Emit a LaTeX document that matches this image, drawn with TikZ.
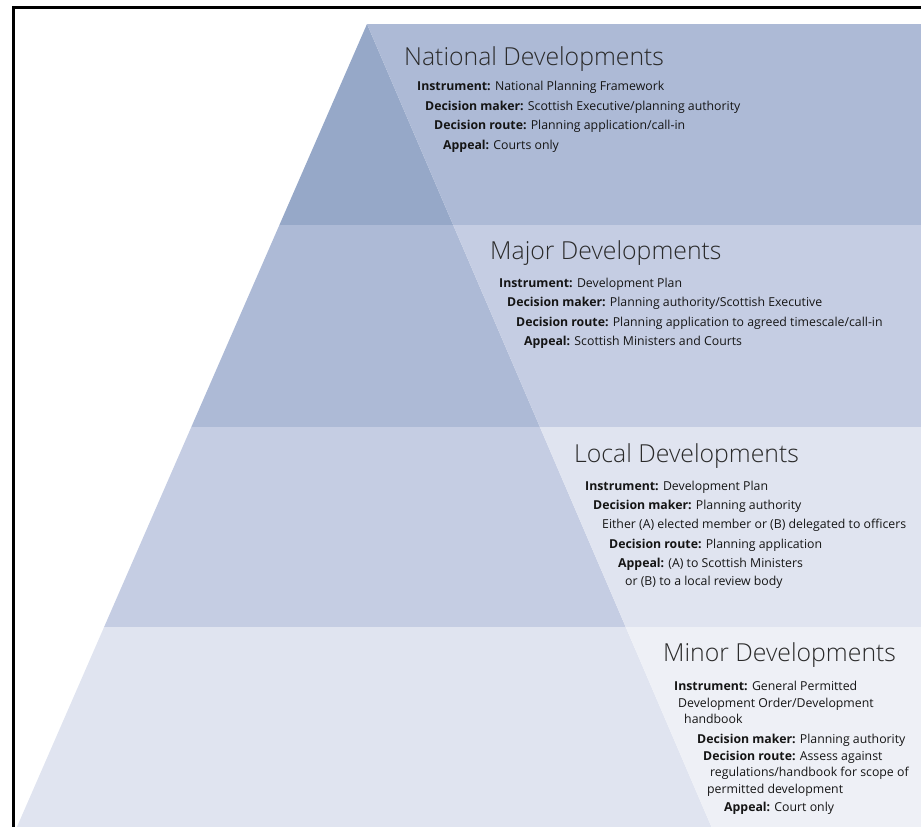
\documentclass[tikz,border=0pt]{standalone}
\usepackage{fontspec}
\setmainfont{Open Sans}
\newfontfamily\ttlfont{Open Sans Light}
\definecolor{bandA}{HTML}{96A8C8}
\definecolor{bandB}{HTML}{ADBAD6}
\definecolor{bandC}{HTML}{C5CDE3}
\definecolor{bandD}{HTML}{E0E4F0}
\definecolor{bandE}{HTML}{EEF0F6}
\definecolor{bodytext}{HTML}{151515}
\definecolor{titletext}{HTML}{2A2A2A}
\begin{document}
\begin{tikzpicture}[x=1pt,y=-1pt,
  body/.style={anchor=base west, inner sep=0pt, font=\fontsize{12.3}{14}\selectfont, text=bodytext},
  ttl/.style={anchor=base west, inner sep=0pt, font=\ttlfont\fontsize{24.8}{28}\selectfont, text=titletext}]
\useasboundingbox (0,0) rectangle (921,827);
% bands
\fill[bandA] (367,24) -- (453.2,225) -- (279.4,225) -- cycle;
\fill[bandB] (367,24) -- (921,24) -- (921,225) -- (453.2,225) -- cycle;
\fill[bandB] (279.4,225) -- (453.2,225) -- (539.9,427) -- (191.3,427) -- cycle;
\fill[bandC] (453.2,225) -- (921,225) -- (921,427) -- (539.9,427) -- cycle;
\fill[bandC] (191.3,427) -- (539.9,427) -- (625.7,627) -- (104.1,627) -- cycle;
\fill[bandD] (539.9,427) -- (921,427) -- (921,627) -- (625.7,627) -- cycle;
\fill[bandD] (104.1,627) -- (625.7,627) -- (711.5,827) -- (16.9,827) -- cycle;
\fill[bandE] (625.7,627) -- (921,627) -- (921,827) -- (711.5,827) -- cycle;
% frame
\draw[line width=3pt] (13,827) -- (13,7) -- (921,7);
% National
\node[ttl]  (natT) at (404,65) {National Developments};
\node[body] (natI) at (417,90.5) {\textbf{Instrument:} National Planning Framework};
\node[body] (natM) at (425,110) {\textbf{Decision maker:} Scottish Executive/planning authority};
\node[body] (natR) at (434,129.5) {\textbf{Decision route:} Planning application/call-in};
\node[body] (natA) at (443,149) {\textbf{Appeal:} Courts only};
% Major
\node[ttl]  (majT) at (490,259) {Major Developments};
\node[body] (majI) at (499,287) {\textbf{Instrument:} Development Plan};
\node[body] (majM) at (507,306.5) {\textbf{Decision maker:} Planning authority/Scottish Executive};
\node[body] (majR) at (516,326) {\textbf{Decision route:} Planning application to agreed timescale/call-in};
\node[body] (majA) at (524,345.5) {\textbf{Appeal:} Scottish Ministers and Courts};
% Local
\node[ttl]  (locT) at (574,462) {Local Developments};
\node[body] (locI) at (585,490) {\textbf{Instrument:} Development Plan};
\node[body] (locM) at (593,509) {\textbf{Decision maker:} Planning authority};
\node[body] (locE) at (602,528.5) {Either (A) elected member or (B) delegated to officers};
\node[body] (locR) at (609,548) {\textbf{Decision route:} Planning application};
\node[body] (locA) at (618,567) {\textbf{Appeal:} (A) to Scottish Ministers};
\node[body] (locB) at (625,585) {or (B) to a local review body};
% Minor
\node[ttl]  (minT) at (663,661) {Minor Developments};
\node[body] (minI) at (674,690.5) {\textbf{Instrument:} General Permitted};
\node[body] (minI2) at (678,707.5) {Development Order/Development};
\node[body] (minI3) at (684,723.5) {handbook};
\node[body] (minM) at (697,743) {\textbf{Decision maker:} Planning authority};
\node[body] (minR) at (703,760.5) {\textbf{Decision route:} Assess against};
\node[body] (minR2) at (710,776.5) {regulations/handbook for scope of};
\node[body] (minR3) at (707,793.5) {permitted development};
\node[body] (minA) at (724,811.5) {\textbf{Appeal:} Court only};
\end{tikzpicture}
\end{document}
